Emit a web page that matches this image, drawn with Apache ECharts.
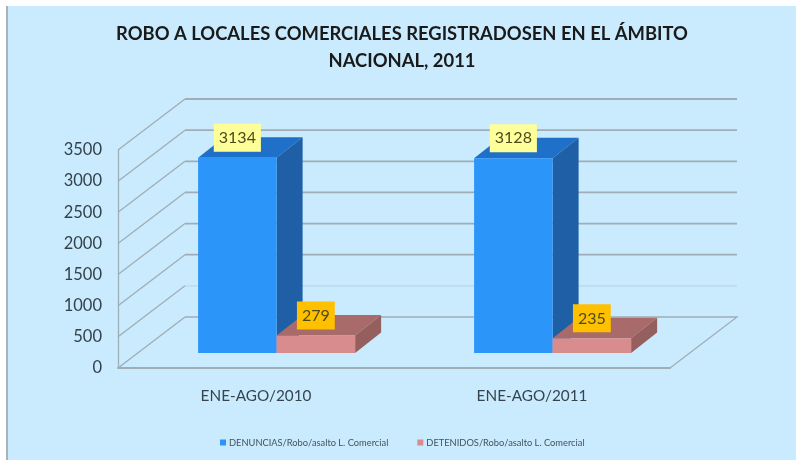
<!DOCTYPE html>
<html>
<head>
<meta charset="utf-8">
<script src="https://cdn.jsdelivr.net/npm/echarts@6/dist/echarts.min.js"></script>
<style>
  html, body { margin: 0; padding: 0; background: #fff; }
  #chart { width: 796px; height: 460px; }
</style>
</head>
<body>
<div id="chart"></div>
<script>
// datos
const categories = ['ENE-AGO/2010', 'ENE-AGO/2011']
const denuncias = [3134, 3128]
const detenidos = [279, 235]
const yTicks = [0, 500, 1000, 1500, 2000, 2500, 3000, 3500]
const titleText = 'ROBO A LOCALES COMERCIALES REGISTRADOSEN EN EL ÁMBITO\nNACIONAL, 2011'
const nameDenuncias = 'DENUNCIAS/Robo/asalto L. Comercial'
const nameDetenidos = 'DETENIDOS/Robo/asalto L. Comercial'

const FONT = 'Lato'
const LINE = '#9fadb6'
// desplazamiento del efecto 3D, en pixeles
const wall = { x: 67, y: -51 }
const floorGap = { x: 20.6, y: -15 }
const depth = { x: 26, y: -20.5 }
const barWidth = 78.5

// paredes: diagonal izquierda y linea del fondo por cada tick
const renderWall = function (params, api) {
  let cs = params.coordSys
  let y = api.coord([0, api.value(1)])[1]
  let left = cs.x
  let right = cs.x + cs.width
  let children = []
  children.push({
    type: 'polyline',
    shape: { points: [[left, y], [left + wall.x, y + wall.y]] },
    style: { stroke: LINE, lineWidth: 1.3, fill: null }
  })
  let back = [[left + wall.x, y + wall.y], [right + wall.x, y + wall.y]]
  if (api.value(1) === 0) back.push([right, y])
  children.push({
    type: 'polyline',
    shape: { points: back },
    style: {
      stroke: api.value(1) === 500 ? '#bcd6e4' : LINE,
      lineWidth: api.value(1) === 0 || api.value(1) === 500 ? 1.3 : 1.8,
      fill: null
    }
  })
  return { type: 'group', children: children }
}

// barra 3D: frente, tapa, lateral y etiqueta
const makeBar = function (side, colors, labelBg) {
  return function (params, api) {
    let base = api.coord([api.value(0), 0])
    let top = api.coord([api.value(0), api.value(1)])
    let x0 = base[0] + floorGap.x + (side < 0 ? -barWidth : 0)
    let x1 = x0 + barWidth
    let yb = base[1] + floorGap.y
    let yt = top[1] + floorGap.y
    return {
      type: 'group',
      children: [
        {
          type: 'polygon',
          shape: { points: [[x0, yt], [x0 + depth.x, yt + depth.y], [x1 + depth.x, yt + depth.y], [x1, yt]] },
          style: { fill: colors.top }
        },
        {
          type: 'polygon',
          shape: { points: [[x1, yt], [x1 + depth.x, yt + depth.y], [x1 + depth.x, yb + depth.y], [x1, yb]] },
          style: { fill: colors.side }
        },
        {
          type: 'rect',
          shape: { x: x0, y: yt, width: barWidth, height: yb - yt },
          style: { fill: colors.front }
        },
        {
          type: 'text',
          x: (x0 + x1) / 2,
          y: yt - 20,
          style: {
            text: String(api.value(1)),
            font: '16px ' + FONT,
            fill: '#4d4a1c',
            align: 'center',
            verticalAlign: 'middle',
            backgroundColor: labelBg,
            padding: [6, 5, 6, 5]
          }
        }
      ]
    }
  }
}

const blue = { front: '#2b95fa', top: '#1f70c9', side: '#1e5fa6' }
const pink = { front: '#d98c8e', top: '#a96b69', side: '#955f5d' }

let myChart = echarts.init(document.getElementById('chart'))
myChart.setOption({
  animation: false,
  graphic: [{
    type: 'rect',
    z: -10,
    silent: true,
    shape: { x: 6, y: 6, width: 790, height: 454 },
    style: { fill: '#c9ebfd' }
  }, {
    type: 'rect',
    z: -9,
    silent: true,
    shape: { x: 6, y: 6, width: 2, height: 454 },
    style: { fill: '#a9b4ba' }
  }],
  title: {
    text: titleText,
    left: 397,
    top: 16,
    textAlign: 'center',
    textStyle: {
      fontFamily: FONT,
      fontSize: 18.4,
      fontWeight: 'bold',
      lineHeight: 27,
      color: '#1a1a1a'
    }
  },
  legend: {
    data: [nameDenuncias, nameDetenidos],
    left: 215,
    top: 433,
    itemWidth: 6,
    itemHeight: 6,
    itemGap: 29,
    icon: 'rect',
    textStyle: { fontFamily: FONT, fontSize: 9.3, color: '#44525c', padding: [0, 0, 0, -2] }
  },
  grid: { left: 118, right: 126, top: 150, height: 218 },
  xAxis: {
    type: 'category',
    data: categories,
    axisLine: { lineStyle: { color: LINE, width: 1.8 } },
    axisTick: { show: false },
    axisLabel: { fontFamily: FONT, fontSize: 15.3, color: '#36444e', margin: 21 }
  },
  yAxis: {
    type: 'value',
    min: 0,
    max: 3500,
    interval: 500,
    axisLine: { show: true, lineStyle: { color: LINE, width: 1.3 } },
    axisTick: { show: false },
    splitLine: { show: false },
    axisLabel: {
      fontFamily: FONT,
      fontSize: 16.5,
      color: '#33414b',
      margin: 16,
      padding: [4, 0, 0, 0],
      formatter: function (v) { return String(v) }
    }
  },
  series: [
    {
      type: 'custom',
      name: 'paredes',
      silent: true,
      clip: false,
      z: 1,
      renderItem: renderWall,
      data: yTicks.map(t => [0, t])
    },
    {
      type: 'custom',
      name: nameDenuncias,
      clip: false,
      z: 2,
      itemStyle: { color: blue.front },
      renderItem: makeBar(-1, blue, '#ffff99'),
      data: denuncias.map((v, i) => [i, v])
    },
    {
      type: 'custom',
      name: nameDetenidos,
      clip: false,
      z: 3,
      itemStyle: { color: pink.front },
      renderItem: makeBar(1, pink, '#ffc000'),
      data: detenidos.map((v, i) => [i, v])
    }
  ]
})
</script>
</body>
</html>
